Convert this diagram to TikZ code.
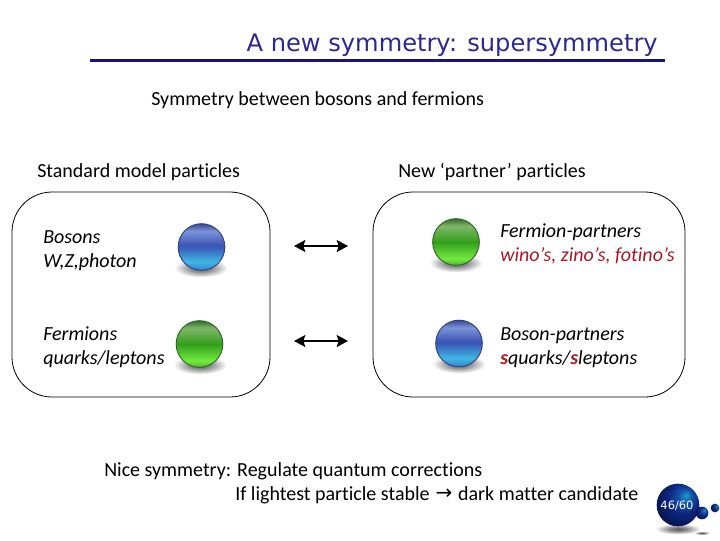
\documentclass[tikz,border=0pt]{standalone}
\usepackage{fontspec}
\setmainfont[Ligatures=NoCommon]{Carlito}
\newfontfamily\titlefont{DejaVu Sans}
\usetikzlibrary{arrows.meta,shapes.geometric}
\definecolor{titleblue}{RGB}{45,40,150}
\definecolor{rulecol}{RGB}{25,20,120}
\definecolor{redtxt}{RGB}{170,25,40}
\definecolor{blueedge}{rgb}{0.20,0.25,0.50}
\definecolor{greenedge}{rgb}{0.18,0.40,0.16}
\pgfdeclareverticalshading{blueball}{100bp}{
 rgb(0bp)=(0.20,0.50,0.78);
 rgb(25bp)=(0.20,0.50,0.78);
 rgb(34bp)=(0.25,0.72,0.90);
 rgb(50bp)=(0.22,0.35,0.72);
 rgb(52bp)=(0.24,0.33,0.70);
 rgb(67bp)=(0.48,0.58,0.85);
 rgb(75bp)=(0.22,0.28,0.58);
 rgb(100bp)=(0.22,0.28,0.58)}
\pgfdeclareverticalshading{greenball}{100bp}{
 rgb(0bp)=(0.30,0.70,0.20);
 rgb(25bp)=(0.30,0.70,0.20);
 rgb(32bp)=(0.45,0.92,0.25);
 rgb(50bp)=(0.20,0.62,0.10);
 rgb(67bp)=(0.50,0.72,0.42);
 rgb(75bp)=(0.20,0.42,0.18);
 rgb(100bp)=(0.20,0.42,0.18)}
\pgfdeclareradialshading{ballshadow}{\pgfpoint{0bp}{0bp}}{
 rgb(0bp)=(0.35,0.35,0.35);
 rgb(10bp)=(0.55,0.55,0.55);
 rgb(25bp)=(1,1,1);
 rgb(50bp)=(1,1,1)}
\pgfdeclareradialshading{bigball}{\pgfpoint{10bp}{12bp}}{
 rgb(0bp)=(0.10,0.62,0.78);
 rgb(8bp)=(0.08,0.32,0.66);
 rgb(18bp)=(0.05,0.15,0.50);
 rgb(36bp)=(0.02,0.05,0.22);
 rgb(50bp)=(0.02,0.05,0.22)}
\tikzset{
 x=0.75pt,y=-0.75pt,
 body/.style={anchor=base west,inner sep=0pt,font=\fontsize{15pt}{17pt}\selectfont},
 bodyit/.style={anchor=base west,inner sep=0pt,font=\fontsize{15pt}{17pt}\selectfont\itshape},
 groupbox/.style={draw=black,line width=0.6pt,rounded corners=30pt},
 ballnode/.style={circle,minimum size=35pt,inner sep=0pt},
 bluesphere/.style={ballnode,shading=blueball,draw=blueedge,line width=0.7pt},
 greensphere/.style={ballnode,shading=greenball,draw=greenedge,line width=0.7pt},
 shadowblob/.style={ellipse,minimum width=40pt,minimum height=14pt,inner sep=0pt,shading=ballshadow},
 dbl/.style={{Stealth[length=8.5pt,width=9pt,inset=1.5pt]}-{Stealth[length=8.5pt,width=9pt,inset=1.5pt]},line width=1.3pt,black},
}
\begin{document}
\begin{tikzpicture}
\useasboundingbox[fill=white] (0,0) rectangle (720,540);
% title
\node[anchor=base east,inner sep=0pt,text=titleblue,font=\titlefont\fontsize{18.1pt}{20pt}\selectfont] (title) at (658,51) {A new symmetry: supersymmetry};
\coordinate (ruleL) at (90,60.5);
\coordinate (ruleR) at (665,60.5);
\draw[rulecol,line width=1.7pt] (ruleL) -- (ruleR);
% headings
\node[body] (sym) at (151,105) {Symmetry between bosons and fermions};
\node[body] (sm) at (37,177) {Standard model particles};
\node[body] (np) at (398,177) {New ‘partner’ particles};
% boxes
\node[groupbox,minimum width=193.5pt,minimum height=153.75pt,inner sep=0pt] (boxL) at (141,294.5) {};
\node[groupbox,minimum width=234pt,minimum height=153.75pt,inner sep=0pt] (boxR) at (529,294.5) {};
% shadows
\node[shadowblob] (s1) at (201,268) {};
\node[shadowblob] (s2) at (200,365) {};
\node[shadowblob] (s3) at (456,263) {};
\node[shadowblob] (s4) at (459,364) {};
% balls
\node[bluesphere] (b1) at (201.5,247) {};
\node[greensphere] (g1) at (199.5,344) {};
\node[greensphere] (g2) at (456,242) {};
\node[bluesphere] (b2) at (459,343.5) {};
% labels
\node[bodyit] (t1) at (43,243) {Bosons};
\node[bodyit] (t2) at (43,267) {W,Z,photon};
\node[bodyit] (t3) at (43,340) {Fermions};
\node[bodyit] (t4) at (43,364) {quarks/leptons};
\node[bodyit] (t5) at (500,237) {Fermion-partners};
\node[bodyit,text=redtxt] (t6) at (500,261) {wino’s, zino’s, fotino’s};
\node[bodyit] (t7) at (500,340) {Boson-partners};
\node[bodyit] (t8) at (500,364) {\textcolor{redtxt}{\bfseries s}quarks/\textcolor{redtxt}{\bfseries s}leptons};
% arrows
\coordinate (a1) at (294,246);
\coordinate (a2) at (348,246);
\coordinate (a3) at (294,341);
\coordinate (a4) at (348,341);
\draw[dbl] (a1) -- (a2);
\draw[dbl] (a3) -- (a4);
% bottom
\node[body] (n1) at (104,476) {Nice symmetry: Regulate quantum corrections};
\node[body] (n2) at (235,500) {If lightest particle stable \kern1pt\raisebox{0.5pt}{\fontspec{DejaVu Sans}\fontsize{15pt}{17pt}\selectfont →}\kern1pt{} dark matter candidate};
% page ball
\node[ellipse,minimum width=34pt,minimum height=8pt,inner sep=0pt,shading=ballshadow] (ps1) at (678,529) {};
\node[ellipse,minimum width=12pt,minimum height=3pt,inner sep=0pt,shading=ballshadow] (ps2) at (702,533) {};
\node[circle,minimum size=32pt,inner sep=0pt,shading=bigball] (pb) at (678,505) {};
\node[circle,minimum size=9.5pt,inner sep=0pt,shading=bigball] (pb2) at (702,513) {};
\node[circle,minimum size=6.5pt,inner sep=0pt,shading=bigball] (pb3) at (715,508) {};
\node[inner sep=0pt,text=white,font=\titlefont\fontsize{8.6pt}{9pt}\selectfont] (pg) at (677,506) {46/60};
\end{tikzpicture}
\end{document}
